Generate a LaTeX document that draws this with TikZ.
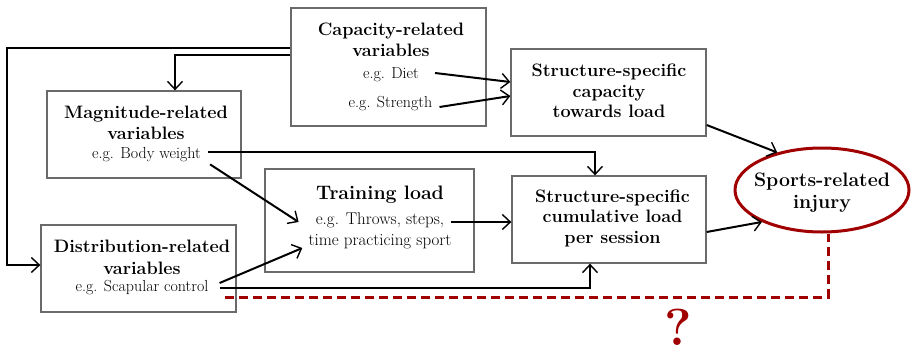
\documentclass[tikz,border=0pt]{standalone}
\usetikzlibrary{arrows.meta,shapes.geometric}
\definecolor{boxgray}{HTML}{6A6A6A}
\definecolor{injred}{HTML}{A00000}
\begin{document}
\begin{tikzpicture}[x=1pt,y=-1pt,
  box/.style={draw=boxgray, line width=1.3pt, rectangle, inner sep=0pt},
  ttl/.style={font=\fontsize{18}{21.5}\selectfont\bfseries, align=center, inner sep=3pt},
  eg/.style={font=\fontsize{16}{21}\selectfont, align=center, inner sep=3pt},
  arr/.style={line width=2pt, -{Straight Barb[length=8pt,width=15pt,line width=1.4pt]}},
  redline/.style={draw=injred, line width=3pt, dash pattern=on 9pt off 5pt}]
\useasboundingbox (0,0) rectangle (912,356);

% boxes
\node[box, minimum width=195pt, minimum height=118pt] (cap) at (388.5,67) {};
\node[box, minimum width=195pt, minimum height=87pt] (ssc) at (608.5,92.5) {};
\node[box, minimum width=194pt, minimum height=87pt] (mag) at (144,134.5) {};
\node[box, minimum width=209pt, minimum height=103pt] (tl) at (369.5,220.5) {};
\node[box, minimum width=195pt, minimum height=87pt] (dist) at (138.5,268.5) {};
\node[box, minimum width=194pt, minimum height=87pt] (cum) at (609,219.5) {};
\node[draw=injred, line width=3pt, ellipse, minimum width=174pt, minimum height=84pt, inner sep=0pt] (inj) at (822,190) {};

% box texts
\node[ttl] (capt) at (391,40) {Capacity-related\\variables};
\node[eg] (diet) at (391,75) {e.g. Diet};
\node[eg] (str) at (390.5,104) {e.g. Strength};
\node[ttl, font=\fontsize{18}{20.5}\selectfont\bfseries] (ssct) at (609,91) {Structure-specific\\capacity\\towards load};
\node[ttl] (magt) at (146,123) {Magnitude-related\\variables};
\node[eg] (bw) at (146.5,155) {e.g. Body weight};
\node[ttl, font=\fontsize{19.5}{22}\selectfont\bfseries] (tlt) at (380,195) {Training load};
\node[eg, font=\fontsize{17}{21}\selectfont] (tla) at (380,220) {e.g. Throws, steps,};
\node[eg, font=\fontsize{17}{21}\selectfont] (tlc) at (380,242) {time practicing sport};
\node[ttl] (distt) at (142,257.5) {Distribution-related\\variables};
\node[eg] (scap) at (142,288) {e.g. Scapular control};
\node[ttl, font=\fontsize{18}{20.5}\selectfont\bfseries] (cumt) at (612.5,218) {Structure-specific\\cumulative load\\per session};
\node[ttl, font=\fontsize{19.5}{22}\selectfont\bfseries] (injt) at (822,193) {Sports-related\\injury};

% capacity variables feed the other boxes
\coordinate (lp) at (7,48);
\draw[arr] ([yshift=19pt]cap.west) -- (lp) |- ([yshift=3.5pt]dist.west);
\draw[arr] ([yshift=12pt]cap.west) -| ([xshift=31pt]mag.north);
\draw[arr] ([xshift=13pt,yshift=2pt]diet.east) -- ([yshift=10.5pt]ssc.west);
\draw[arr] ([xshift=4pt,yshift=-3pt]str.east) -- ([yshift=-3.5pt]ssc.west);
\draw[arr] ([yshift=-32.5pt]ssc.east) -- (inj.140);

% magnitude variables
\draw[arr] ([xshift=4pt,yshift=3pt]bw.east) -| ([xshift=-14pt]cum.north);
\draw[arr] ([xshift=6pt,yshift=1pt]bw.south east) -- ([xshift=-14pt,yshift=-2pt]tla.west);

% distribution variables
\draw[arr] ([xshift=8pt,yshift=5pt]scap.east) -- ([xshift=-3pt,yshift=-6pt]tlc.west);
\draw[arr] ([xshift=8pt]scap.east) -| ([xshift=-19pt]cum.south);

% training load to cumulative load to injury
\draw[arr] ([xshift=4pt,yshift=-2pt]tla.east) -- ([yshift=-2.5pt]cum.west);
\draw[arr] ([yshift=-12.5pt]cum.east) -- (inj.208);

% uncertain link
\coordinate (rq) at (225,297);
\draw[redline] (rq) -| ([xshift=6pt]inj.south);
\node[text=injred, font=\fontsize{52}{56}\selectfont\bfseries, inner sep=0pt] (q) at (678,327) {?};
\end{tikzpicture}
\end{document}
